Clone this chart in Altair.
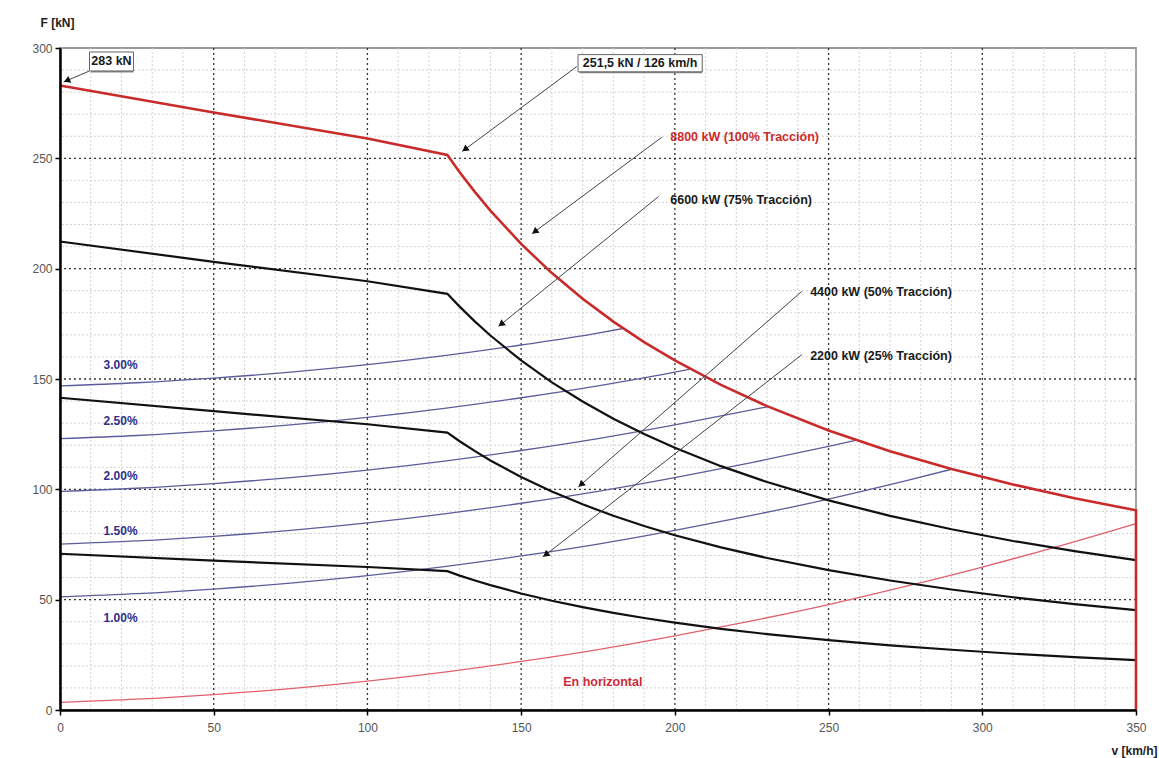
import math
import altair as alt
import pandas as pd

# ---------------- data ----------------
# traction effort curves (kN) at speeds (km/h)
power_v = [0, 50, 100, 126, 130, 135, 140, 150, 160, 170, 180, 190,
           200, 215, 230, 250, 270, 290, 310, 330, 350]
F_100 = [283.0, 270.8, 259.0, 251.5, 243.7, 234.7, 226.3, 211.2,
         198.0, 186.4, 176.0, 166.7, 158.4, 147.3, 137.7, 126.7, 117.3, 109.2,
         102.2, 96.0, 90.5]
F_75 = [212.3, 203.1, 194.3, 188.6, 182.8, 176.0, 169.7, 158.4,
        148.5, 139.8, 132.0, 125.1, 118.8, 110.5, 103.3, 95.0, 88.0, 81.9,
        76.6, 72.0, 67.9]
F_50 = [141.5, 135.4, 129.5, 125.7, 121.8, 117.3, 113.1, 105.6,
        99.0, 93.2, 88.0, 83.4, 79.2, 73.7, 68.9, 63.4, 58.7, 54.6, 51.1,
        48.0, 45.3]
F_25 = [70.8, 67.7, 64.8, 62.9, 60.9, 58.7, 56.6, 52.8, 49.5,
        46.6, 44.0, 41.7, 39.6, 36.8, 34.4, 31.7, 29.3, 27.3, 25.5, 24.0, 22.6]

# resistance on level track ("En horizontal")
res_v = [0, 25, 50, 75, 100, 125, 150, 175, 200, 225, 250, 275, 300, 325, 350]
res_F = [3.5, 4.9, 7.0, 9.7, 13.1, 17.2, 22.0, 27.4, 33.6, 40.4, 47.8, 56.0,
         64.8, 74.3, 84.5]

# resistance on gradients
g1_v = [0, 25, 50, 75, 100, 125, 150, 175, 200, 225, 250, 275, 290]
g1_F = [51.3, 52.7, 54.8, 57.5, 60.9, 65.0, 69.8, 75.2, 81.4, 88.2, 95.6, 103.8, 109.1]
g15_v = [0, 25, 50, 75, 100, 125, 150, 175, 200, 225, 250, 259]
g15_F = [75.2, 76.6, 78.7, 81.4, 84.8, 88.9, 93.7, 99.1, 105.3, 112.1, 119.5, 122.3]
g2_v = [0, 25, 50, 75, 100, 125, 150, 175, 200, 225, 230.5]
g2_F = [99.1, 100.5, 102.6, 105.3, 108.7, 112.8, 117.6, 123.0, 129.2, 136.0, 137.5]
g25_v = [0, 25, 50, 75, 100, 125, 150, 175, 200, 205]
g25_F = [123.0, 124.4, 126.5, 129.2, 132.6, 136.7, 141.5, 146.9, 153.1, 154.5]
g3_v = [0, 25, 50, 75, 100, 125, 150, 175, 183.5]
g3_F = [146.9, 148.3, 150.4, 153.1, 156.5, 160.6, 165.4, 170.8, 173.0]

grad_names = ["1.00%", "1.50%", "2.00%", "2.50%", "3.00%"]
grad_label_v = [19.7, 19.7, 19.7, 19.7, 19.7]
grad_label_F = [41.8, 81.3, 106.0, 130.9, 156.5]

# power labels with leader arrows
pw_labels = ["8800 kW (100% Tracción)", "6600 kW (75% Tracción)",
             "4400 kW (50% Tracción)", "2200 kW (25% Tracción)"]
pw_label_v = [198.5, 198.5, 244.0, 244.0]
pw_label_F = [259.6, 230.9, 189.4, 160.2]
pw_label_col = ["#cc2b2b", "#1a1a1a", "#1a1a1a", "#1a1a1a"]

# arrows: start (v, F) -> tip (v, F)
arr_v1 = [9.6, 168.1, 195.8, 194.7, 241.3, 241.3]
arr_F1 = [289.6, 291.6, 259.6, 232.7, 189.7, 161.0]
arr_v2 = [1.2, 130.8, 153.5, 142.6, 168.6, 157.1]
arr_F2 = [284.6, 253.1, 215.8, 173.8, 101.1, 69.4]

# boxed notes
box_text = ["283 kN", "251,5 kN / 126 km/h"]
box_v1 = [9.6, 168.5]
box_v2 = [23.9, 208.9]
box_F1 = [289.6, 289.2]
box_F2 = [298.2, 297.0]

horiz_label = ["En horizontal"]
horiz_label_v = [163.7]
horiz_label_F = [12.5]

x_ticks = [0, 50, 100, 150, 200, 250, 300, 350]
y_ticks = [0, 50, 100, 150, 200, 250, 300]

# ---------------- layout ----------------
W, H = 1076, 662
FONT = "Liberation Sans, Arial, sans-serif"
PXV = W / 350.0
PXF = H / 300.0

xscale = alt.Scale(domain=[0, 350], nice=False, zero=False)
yscale = alt.Scale(domain=[0, 300], nice=False, zero=False)

xaxis = alt.Axis(values=x_ticks, grid=False, title="v [km/h]",
                 titleX=1051, titleY=40, titleAlign="left", titleAngle=0,
                 titleBaseline="middle", titleFont=FONT, titleFontSize=12,
                 titleFontWeight="bold", titleColor="#222",
                 labelFont=FONT, labelFontSize=12, labelColor="#555",
                 labelPadding=7, labelFlush=False, tickSize=5, tickColor="#000",
                 tickWidth=1.5, domainColor="#000", domainWidth=2.5, zindex=1)
yaxis = alt.Axis(values=y_ticks, grid=False, title="F [kN]",
                 titleX=-20, titleY=-26, titleAlign="left", titleAngle=0,
                 titleBaseline="middle", titleFont=FONT, titleFontSize=12,
                 titleFontWeight="bold", titleColor="#222",
                 labelFont=FONT, labelFontSize=12, labelColor="#555",
                 labelPadding=3, labelFlush=False, tickSize=5, tickColor="#000",
                 tickWidth=1.5, domainColor="#000", domainWidth=2.5, zindex=1)


def X(f="v"):
    return alt.X(f"{f}:Q", scale=xscale, axis=xaxis)


def Y(f="F"):
    return alt.Y(f"{f}:Q", scale=yscale, axis=yaxis)


# grids
minor_v = pd.DataFrame({"v": [v for v in range(10, 350, 10) if v % 50]})
minor_F = pd.DataFrame({"F": [f for f in range(10, 300, 10) if f % 50]})
major_v = pd.DataFrame({"v": [v for v in x_ticks if 0 < v < 350]})
major_F = pd.DataFrame({"F": [f for f in y_ticks if 0 < f < 300]})

g_minor_v = alt.Chart(minor_v).mark_rule(color="#d2d2d2", strokeWidth=1, strokeDash=[2, 2]).encode(x=X())
g_minor_F = alt.Chart(minor_F).mark_rule(color="#d2d2d2", strokeWidth=1, strokeDash=[2, 2]).encode(y=Y())
g_major_v = alt.Chart(major_v).mark_rule(color="#333", strokeWidth=1.3, strokeDash=[2, 3]).encode(x=X())
g_major_F = alt.Chart(major_F).mark_rule(color="#333", strokeWidth=1.3, strokeDash=[2, 3]).encode(y=Y())

# curves
rows = []
for name, vals in [("75", F_75), ("50", F_50), ("25", F_25)]:
    for i, (v, f) in enumerate(zip(power_v, vals)):
        rows.append({"v": v, "F": f, "series": name, "i": i})
black_df = pd.DataFrame(rows)

red_rows = [{"v": v, "F": f, "i": i} for i, (v, f) in enumerate(zip(power_v, F_100))]
red_rows.append({"v": 350, "F": 0, "i": len(red_rows)})
red_df = pd.DataFrame(red_rows)

grad_rows = []
for name, vs, fs in zip(grad_names, [g1_v, g15_v, g2_v, g25_v, g3_v],
                        [g1_F, g15_F, g2_F, g25_F, g3_F]):
    for v, f in zip(vs, fs):
        grad_rows.append({"v": v, "F": f, "series": name})
grad_df = pd.DataFrame(grad_rows)
res_df = pd.DataFrame({"v": res_v, "F": res_F})

res_line = alt.Chart(res_df).mark_line(color="#e0606e", strokeWidth=1.3, interpolate="monotone").encode(x=X(), y=Y())
grad_lines = alt.Chart(grad_df).mark_line(color="#5c5c9c", strokeWidth=1.3, interpolate="monotone").encode(
    x=X(), y=Y(), detail="series:N")
black_lines = alt.Chart(black_df).mark_line(color="#111", strokeWidth=2.2).encode(
    x=X(), y=Y(), detail="series:N", order="i:Q")
red_line = alt.Chart(red_df).mark_line(color="#c92a2a", strokeWidth=2.6).encode(
    x=X(), y=Y(), order="i:Q")

# arrows
arr_df = pd.DataFrame({"v": arr_v1, "F": arr_F1, "v2": arr_v2, "F2": arr_F2})
heads = []
for v1, f1, v2, f2 in zip(arr_v1, arr_F1, arr_v2, arr_F2):
    dx = (v2 - v1) * PXV
    dy = -(f2 - f1) * PXF
    L = math.hypot(dx, dy)
    ux, uy = dx / L, dy / L
    ang = math.degrees(math.atan2(ux, -uy)) % 360
    back = 3.5
    heads.append({"v": v2 - ux * back / PXV, "F": f2 + uy * back / PXF, "ang": ang})
head_df = pd.DataFrame(heads)

leaders = alt.Chart(arr_df).mark_rule(color="#444", strokeWidth=1).encode(
    x=X(), y=Y(), x2="v2:Q", y2="F2:Q")
arrowheads = alt.Chart(head_df).mark_point(shape="triangle-up", filled=True, color="#111",
                                           size=55, opacity=1).encode(
    x=X(), y=Y(), angle=alt.Angle("ang:Q", scale=None))

# texts
grad_lab_df = pd.DataFrame({"v": grad_label_v, "F": grad_label_F, "t": grad_names})
grad_text = alt.Chart(grad_lab_df).mark_text(font=FONT, fontSize=12, fontWeight="bold",
                                             color="#30308a", align="center", baseline="middle").encode(
    x=X(), y=Y(), text="t:N")

pw_df = pd.DataFrame({"v": pw_label_v, "F": pw_label_F, "t": pw_labels, "c": pw_label_col})
pw_text = alt.Chart(pw_df).mark_text(font=FONT, fontSize=12.5, fontWeight="bold",
                                     align="left", baseline="middle").encode(
    x=X(), y=Y(), text="t:N", color=alt.Color("c:N", scale=None))

hz_df = pd.DataFrame({"v": horiz_label_v, "F": horiz_label_F, "t": horiz_label})
hz_text = alt.Chart(hz_df).mark_text(font=FONT, fontSize=12.5, fontWeight="bold", color="#cc2b3b",
                                     align="left", baseline="middle").encode(
    x=X(), y=Y(), text="t:N")

box_df = pd.DataFrame({"v": box_v1, "v2": box_v2, "F": box_F1, "F2": box_F2, "t": box_text,
                       "vc": [(a + b) / 2 for a, b in zip(box_v1, box_v2)],
                       "Fc": [(a + b) / 2 for a, b in zip(box_F1, box_F2)]})
box_shadow = alt.Chart(box_df).mark_rect(fill="#8a8a8a", xOffset=1.5, yOffset=1.5).encode(
    x=X(), x2="v2:Q", y=Y(), y2="F2:Q")
box_rect = alt.Chart(box_df).mark_rect(fill="white", stroke="#666", strokeWidth=1).encode(
    x=X(), x2="v2:Q", y=Y(), y2="F2:Q")
box_txt = alt.Chart(box_df).mark_text(font=FONT, fontSize=12.5, fontWeight="bold", color="#1a1a1a",
                                      align="center", baseline="middle").encode(
    x=X("vc"), y=Y("Fc"), text="t:N")

chart = alt.layer(
    g_minor_v, g_minor_F, g_major_v, g_major_F,
    res_line, grad_lines, black_lines, red_line,
    leaders, arrowheads,
    box_shadow, box_rect, box_txt,
    grad_text, pw_text, hz_text,
).properties(
    width=W, height=H,
    autosize=alt.AutoSizeParams(type="none"),
    padding={"left": 60, "top": 48, "right": 23, "bottom": 48},
    background="white",
).configure_view(stroke="#9a9a9a", strokeWidth=1.8)

chart.save("out.html", embed_options={"renderer": "svg", "actions": False})
